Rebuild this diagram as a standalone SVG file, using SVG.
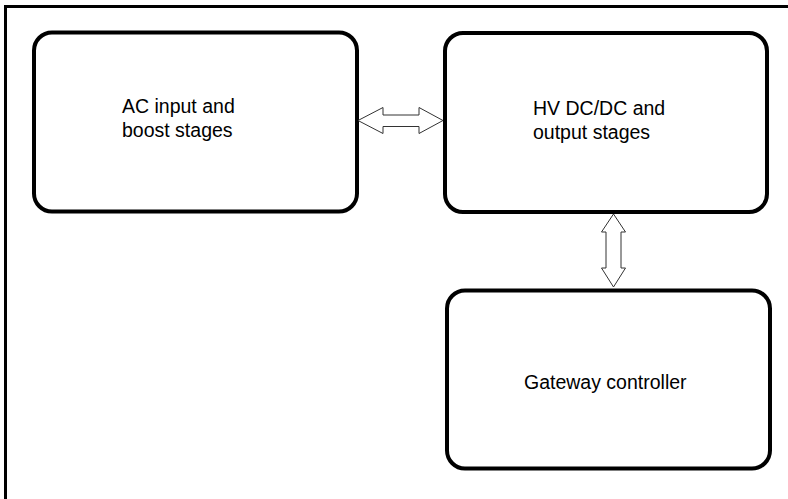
<svg xmlns="http://www.w3.org/2000/svg" width="788" height="499" viewBox="0 0 788 499">
<style>
.frame{fill:none;stroke:#000;stroke-width:3}
.box{fill:#fff;stroke:#000;stroke-width:4}
.lbl{font-family:"Liberation Sans",Arial,sans-serif;font-size:19.5px;fill:#000}
.arr{fill:#fff;stroke:#333;stroke-width:1}
</style>
<rect width="788" height="499" fill="#fff"/>
<rect class="frame" x="5.5" y="6.5" width="800" height="510"/>
<g id="node-ac">
<rect class="box" x="34" y="32.5" width="323" height="179" rx="18" ry="18"/>
<text class="lbl" x="122" y="113">AC input and</text>
<text class="lbl" x="122" y="137">boost stages</text>
</g>
<g id="node-hv">
<rect class="box" x="445" y="33" width="322" height="179" rx="18" ry="18"/>
<text class="lbl" x="533" y="115">HV DC/DC and</text>
<text class="lbl" x="533" y="139">output stages</text>
</g>
<g id="node-gw">
<rect class="box" x="447" y="290.5" width="323" height="178" rx="18" ry="18"/>
<text class="lbl" x="524" y="389">Gateway controller</text>
</g>
<g id="connectors">
<polygon class="arr" points="358,120.5 383,107.5 383,115 419,115 419,107.5 443,120.5 419,133.5 419,126.5 383,126.5 383,133.5"/>
<polygon class="arr" points="613.5,214 625.5,232 621,232 621,268 625.5,268 613.5,287 601.5,268 606,268 606,232 601.5,232"/>
</g>
</svg>
